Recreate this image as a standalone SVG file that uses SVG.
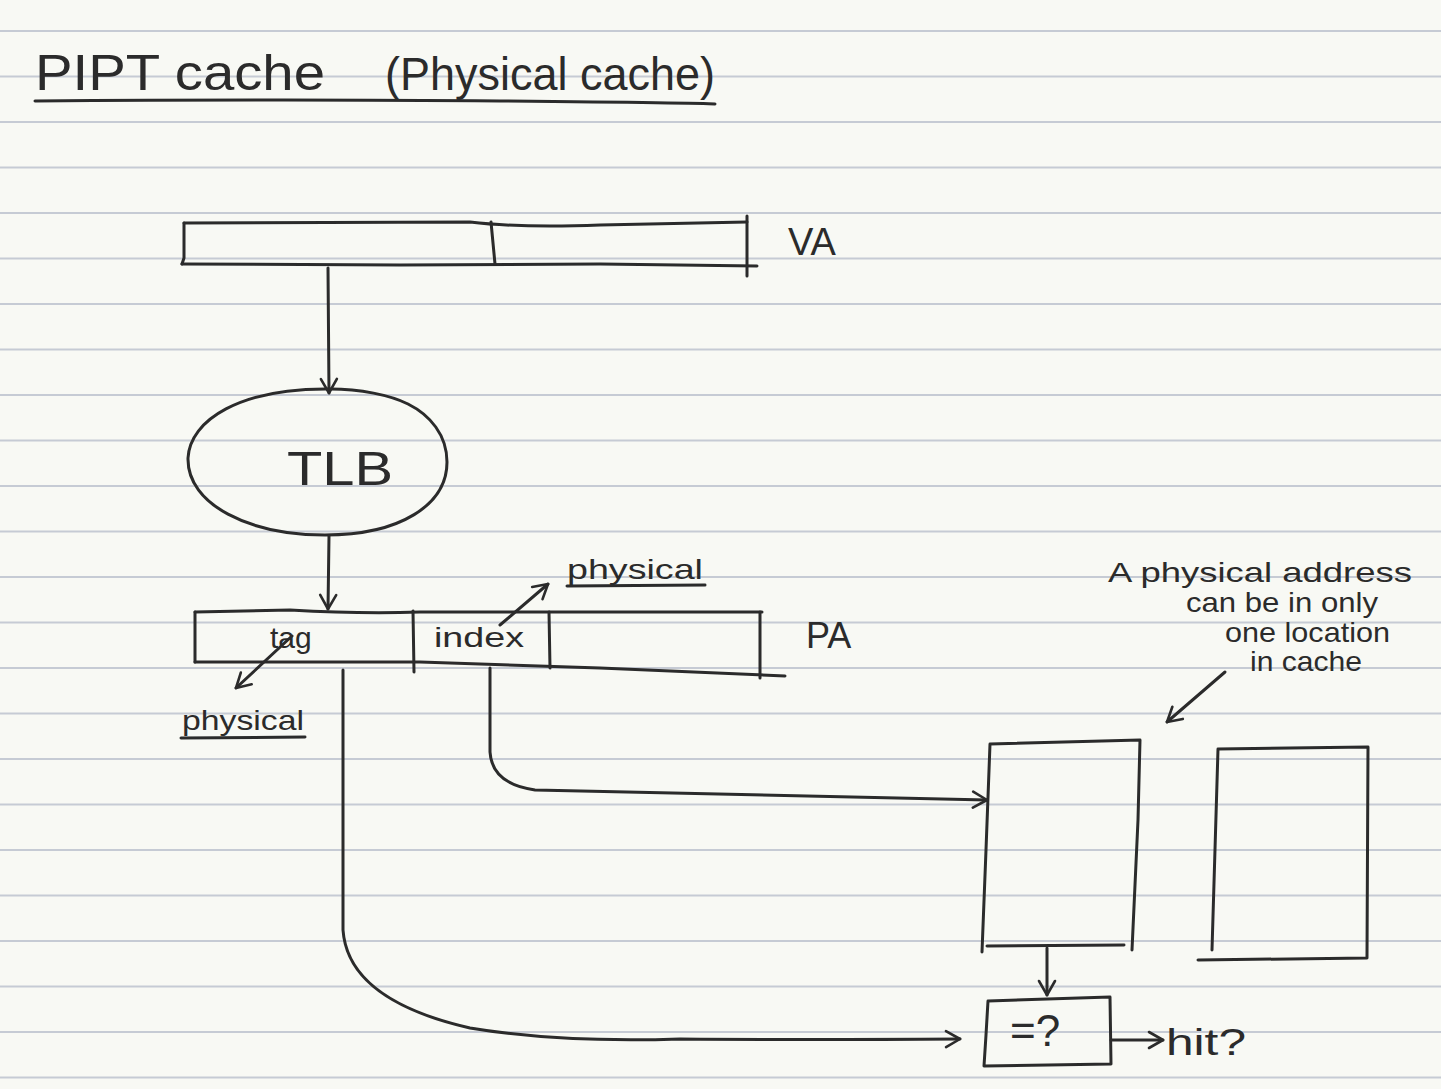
<svg xmlns="http://www.w3.org/2000/svg" width="1441" height="1089" viewBox="0 0 1441 1089">
  <defs>
    <style>
      .ink { fill: none; stroke: #2b2b2b; stroke-width: 3; stroke-linecap: round; stroke-linejoin: round; }
      .rule { stroke: #c6cbd4; stroke-width: 2; }
      .hand { fill: #2b2b2b; font-family: "Liberation Sans", "DejaVu Sans", sans-serif; }
    </style>
    <marker id="arrow" viewBox="0 0 20 20" refX="17" refY="10" markerWidth="20" markerHeight="20" markerUnits="userSpaceOnUse" orient="auto">
      <path d="M3,2 L17,10 L3,18" fill="none" stroke="#2b2b2b" stroke-width="2.6" stroke-linecap="round" stroke-linejoin="round"/>
    </marker>
  </defs>

  <!-- paper -->
  <rect x="0" y="0" width="1441" height="1089" fill="#f8f9f4"/>
  <g id="ruling">
    <line class="rule" x1="0" y1="31" x2="1441" y2="31"/>
    <line class="rule" x1="0" y1="76.5" x2="1441" y2="76.5"/>
    <line class="rule" x1="0" y1="122" x2="1441" y2="122"/>
    <line class="rule" x1="0" y1="167.5" x2="1441" y2="167.5"/>
    <line class="rule" x1="0" y1="213" x2="1441" y2="213"/>
    <line class="rule" x1="0" y1="258.5" x2="1441" y2="258.5"/>
    <line class="rule" x1="0" y1="304" x2="1441" y2="304"/>
    <line class="rule" x1="0" y1="349.5" x2="1441" y2="349.5"/>
    <line class="rule" x1="0" y1="395" x2="1441" y2="395"/>
    <line class="rule" x1="0" y1="440.5" x2="1441" y2="440.5"/>
    <line class="rule" x1="0" y1="486" x2="1441" y2="486"/>
    <line class="rule" x1="0" y1="531.5" x2="1441" y2="531.5"/>
    <line class="rule" x1="0" y1="577" x2="1441" y2="577"/>
    <line class="rule" x1="0" y1="622.5" x2="1441" y2="622.5"/>
    <line class="rule" x1="0" y1="668" x2="1441" y2="668"/>
    <line class="rule" x1="0" y1="713.5" x2="1441" y2="713.5"/>
    <line class="rule" x1="0" y1="759" x2="1441" y2="759"/>
    <line class="rule" x1="0" y1="804.5" x2="1441" y2="804.5"/>
    <line class="rule" x1="0" y1="850" x2="1441" y2="850"/>
    <line class="rule" x1="0" y1="895.5" x2="1441" y2="895.5"/>
    <line class="rule" x1="0" y1="941" x2="1441" y2="941"/>
    <line class="rule" x1="0" y1="986.5" x2="1441" y2="986.5"/>
    <line class="rule" x1="0" y1="1032" x2="1441" y2="1032"/>
    <line class="rule" x1="0" y1="1077.5" x2="1441" y2="1077.5"/>
  </g>

  <!-- title -->
  <g id="title">
    <text class="hand" x="35" y="90" font-size="50" textLength="290" lengthAdjust="spacingAndGlyphs">PIPT cache</text>
    <text class="hand" x="385" y="90" font-size="46" textLength="330" lengthAdjust="spacingAndGlyphs">(Physical cache)</text>
    <path class="ink" d="M35,101 Q300,99 500,101 T715,104"/>
  </g>

  <!-- VA register -->
  <g id="va">
    <path class="ink" d="M184,223 L470,222 Q520,228 600,225 L747,222"/>
    <path class="ink" d="M747,216 L747,276"/>
    <path class="ink" d="M184,223 L184,258 L182,264"/>
    <path class="ink" d="M182,264 L400,265 L600,264 L757,266"/>
    <path class="ink" d="M491,222 L495,264"/>
    <text class="hand" x="788" y="255" font-size="38">VA</text>
  </g>

  <!-- TLB -->
  <g id="tlb">
    <path class="ink" d="M330,389 C240,388 190,420 188,458 C187,505 250,535 325,535 C400,535 447,505 447,462 C447,435 430,415 408,404 C390,395 360,389 330,389 Z"/>
    <text class="hand" x="287" y="485" font-size="48" textLength="106" lengthAdjust="spacingAndGlyphs">TLB</text>
  </g>

  <!-- PA register -->
  <g id="pa">
    <path class="ink" d="M195,612 L290,610 Q360,614 420,612 L762,612"/>
    <path class="ink" d="M760,612 L760,678"/>
    <path class="ink" d="M195,612 L195,662"/>
    <path class="ink" d="M195,662 L420,662 L600,668 L785,676"/>
    <path class="ink" d="M413,611 L414,672"/>
    <path class="ink" d="M549,612 L550,668"/>
    <text class="hand" x="270" y="648" font-size="30">tag</text>
    <text class="hand" x="434" y="647" font-size="28" textLength="90" lengthAdjust="spacingAndGlyphs">index</text>
    <text class="hand" x="806" y="648" font-size="36">PA</text>
  </g>

  <!-- annotation: index is physical -->
  <g id="label-index-physical">
    <text class="hand" x="567" y="579" font-size="28" textLength="136" lengthAdjust="spacingAndGlyphs">physical</text>
    <path class="ink" d="M567,586 L705,585"/>
  </g>

  <!-- annotation: tag is physical -->
  <g id="label-tag-physical">
    <text class="hand" x="182" y="730" font-size="28" textLength="122" lengthAdjust="spacingAndGlyphs">physical</text>
    <path class="ink" d="M181,738 L305,737"/>
  </g>

  <!-- note -->
  <g id="note">
    <text class="hand" x="1108" y="582" font-size="28" textLength="304" lengthAdjust="spacingAndGlyphs">A physical address</text>
    <text class="hand" x="1186" y="612" font-size="28" textLength="192" lengthAdjust="spacingAndGlyphs">can be in only</text>
    <text class="hand" x="1225" y="642" font-size="28" textLength="165" lengthAdjust="spacingAndGlyphs">one location</text>
    <text class="hand" x="1250" y="671" font-size="28" textLength="112" lengthAdjust="spacingAndGlyphs">in cache</text>
  </g>

  <!-- cache ways -->
  <g id="cache-way-0">
    <path class="ink" d="M990,744 L1140,740 L1138,820 L1132,950 M987,946 L1124,945 M990,744 L986,850 L982,952"/>
  </g>
  <g id="cache-way-1">
    <path class="ink" d="M1218,749 L1368,747 L1367,958 L1198,960 M1218,749 L1212,950"/>
  </g>

  <!-- comparator -->
  <g id="compare">
    <path class="ink" d="M988,1001 L1110,997 L1111,1064 L984,1066 M988,1001 L986,1035 L984,1066"/>
    <text class="hand" x="1010" y="1046" font-size="44">=?</text>
  </g>

  <!-- hit -->
  <g id="hit">
    <text class="hand" x="1166" y="1055" font-size="36" textLength="80" lengthAdjust="spacingAndGlyphs">hit?</text>
  </g>

  <!-- connectors -->
  <g id="connectors">
    <path class="ink" d="M328,268 L329,393" marker-end="url(#arrow)"/>
    <path class="ink" d="M329,536 L328,609" marker-end="url(#arrow)"/>
    <path class="ink" d="M490,668 L490,752 Q492,784 535,790 L987,800" marker-end="url(#arrow)"/>
    <path class="ink" d="M343,670 L343,930 Q348,1000 470,1028 Q560,1043 680,1039 Q800,1040 960,1039" marker-end="url(#arrow)"/>
    <path class="ink" d="M1047,948 L1047,995" marker-end="url(#arrow)"/>
    <path class="ink" d="M1111,1040 L1163,1040" marker-end="url(#arrow)"/>
    <path class="ink" d="M500,625 L548,584" marker-end="url(#arrow)"/>
    <path class="ink" d="M292,636 L236,688" marker-end="url(#arrow)"/>
    <path class="ink" d="M1225,672 L1167,722" marker-end="url(#arrow)"/>
  </g>
</svg>
